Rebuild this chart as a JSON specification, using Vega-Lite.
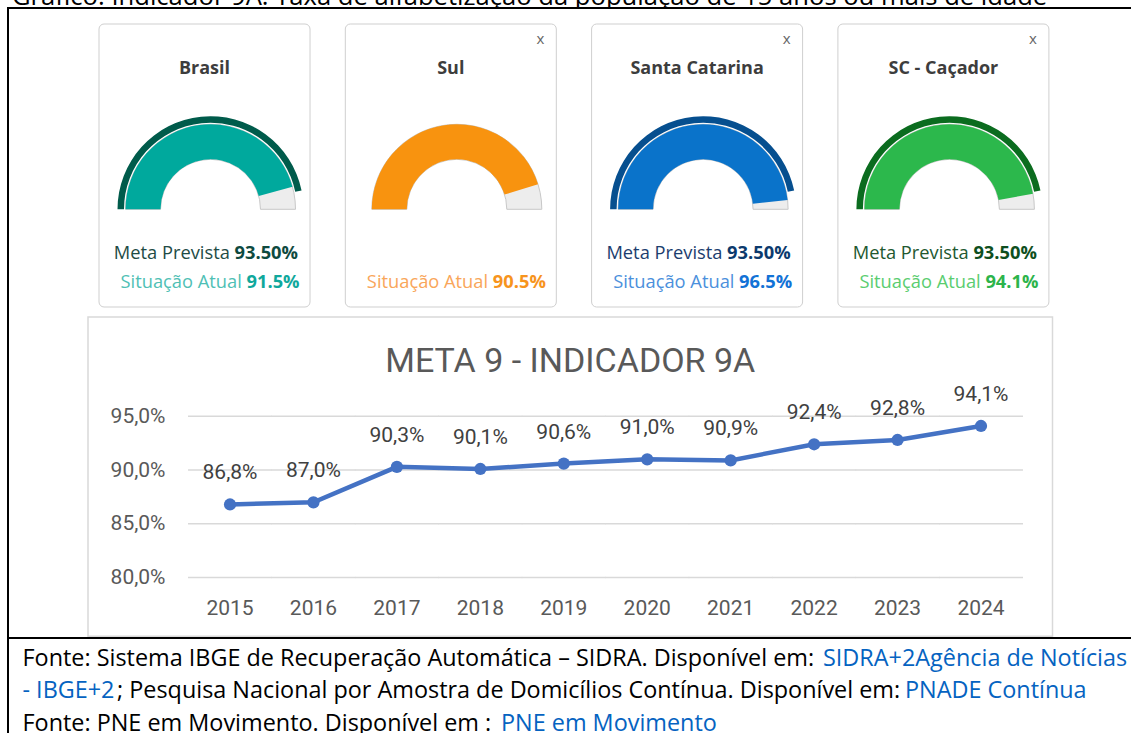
{
  "$schema": "https://vega.github.io/schema/vega-lite/v6.json",
  "background": "white",
  "padding": 0,
  "spacing": 0,
  "datasets": {
    "cards": [
      {"regiao": "Brasil", "meta": 0.935, "atual": 0.915},
      {"regiao": "Sul", "meta": null, "atual": 0.905},
      {"regiao": "Santa Catarina", "meta": 0.935, "atual": 0.965},
      {"regiao": "SC - Caçador", "meta": 0.935, "atual": 0.941}
    ],
    "serie": [
      {"ano": 2015, "valor": 86.8},
      {"ano": 2016, "valor": 87.0},
      {"ano": 2017, "valor": 90.3},
      {"ano": 2018, "valor": 90.1},
      {"ano": 2019, "valor": 90.6},
      {"ano": 2020, "valor": 91.0},
      {"ano": 2021, "valor": 90.9},
      {"ano": 2022, "valor": 92.4},
      {"ano": 2023, "valor": 92.8},
      {"ano": 2024, "valor": 94.1}
    ],
    "grade": [
      {"ano": 2015, "nivel": 80}, {"ano": 2016, "nivel": 80}, {"ano": 2017, "nivel": 80}, {"ano": 2018, "nivel": 80}, {"ano": 2019, "nivel": 80},
      {"ano": 2020, "nivel": 80}, {"ano": 2021, "nivel": 80}, {"ano": 2022, "nivel": 80}, {"ano": 2023, "nivel": 80}, {"ano": 2024, "nivel": 80},
      {"ano": 2015, "nivel": 85}, {"ano": 2016, "nivel": 85}, {"ano": 2017, "nivel": 85}, {"ano": 2018, "nivel": 85}, {"ano": 2019, "nivel": 85},
      {"ano": 2020, "nivel": 85}, {"ano": 2021, "nivel": 85}, {"ano": 2022, "nivel": 85}, {"ano": 2023, "nivel": 85}, {"ano": 2024, "nivel": 85},
      {"ano": 2015, "nivel": 90}, {"ano": 2016, "nivel": 90}, {"ano": 2017, "nivel": 90}, {"ano": 2018, "nivel": 90}, {"ano": 2019, "nivel": 90},
      {"ano": 2020, "nivel": 90}, {"ano": 2021, "nivel": 90}, {"ano": 2022, "nivel": 90}, {"ano": 2023, "nivel": 90}, {"ano": 2024, "nivel": 90},
      {"ano": 2015, "nivel": 95}, {"ano": 2016, "nivel": 95}, {"ano": 2017, "nivel": 95}, {"ano": 2018, "nivel": 95}, {"ano": 2019, "nivel": 95},
      {"ano": 2020, "nivel": 95}, {"ano": 2021, "nivel": 95}, {"ano": 2022, "nivel": 95}, {"ano": 2023, "nivel": 95}, {"ano": 2024, "nivel": 95}
    ]
  },
  "config": {"view": {"stroke": null}, "font": "Roboto", "concat": {"spacing": 0}},
  "vconcat": [
    {
      "width": 1131, "height": 7,
      "data": {"values": [{}]},
      "mark": {"type": "text", "text": "Gráfico: Indicador 9A: Taxa de alfabetização da população de 15 anos ou mais de idade", "clip": true, "align": "left", "baseline": "alphabetic", "dx": -553.5, "dy": 1, "font": "Open Sans", "fontSize": 25.6, "color": "#000000"},
      "encoding": {}
    },
    {
      "spacing": 0,
      "hconcat": [
        {"width": 7, "height": 726, "data": {"values": [{}]}, "mark": {"type": "rect", "opacity": 0}, "encoding": {}},
        {"width": 2, "height": 726, "data": {"values": [{}]}, "mark": {"type": "rect", "color": "#000000"}, "encoding": {}},
        {
          "spacing": 0,
          "vconcat": [
            {"width": 1122, "height": 2, "data": {"values": [{}]}, "mark": {"type": "rect", "color": "#000000"}, "encoding": {}},
            {"width": 1122, "height": 13.5, "data": {"values": [{}]}, "mark": {"type": "rect", "opacity": 0}, "encoding": {}},
            {
              "width": 1122, "height": 283,
              "data": {"name": "cards"},
              "resolve": {"scale": {"color": "independent"}},
              "layer": [
                {
                  "mark": {"type": "rect", "fill": "#ffffff", "stroke": "#cfcfcf", "strokeWidth": 1, "cornerRadius": 5},
                  "encoding": {
                    "x": {"field": "regiao", "type": "nominal", "axis": null, "scale": {"type": "band", "domain": ["Brasil", "Sul", "Santa Catarina", "SC - Caçador"], "paddingInner": 0.1433, "paddingOuter": 0.3494, "align": 0.523}}
                  }
                },
                {
                  "mark": {"type": "arc", "radius": 85, "radius2": 50, "theta": -1.5708, "theta2": 1.5708, "fill": "#ededed", "stroke": "#c8c8c8", "strokeWidth": 1, "xOffset": 6, "yOffset": 43.8},
                  "encoding": {
                    "x": {"field": "regiao", "type": "nominal", "axis": null, "bandPosition": 0.5}
                  }
                },
                {
                  "transform": [{"filter": "datum.meta != null"}],
                  "mark": {"type": "arc", "radius": 93, "radius2": 86.5, "xOffset": 6, "yOffset": 43.8},
                  "encoding": {
                    "x": {"field": "regiao", "type": "nominal", "axis": null, "bandPosition": 0.5},
                    "theta": {"field": "meta", "type": "quantitative", "stack": null, "scale": {"domain": [0, 1], "range": [-1.5708, 1.5708]}},
                    "color": {"field": "regiao", "type": "nominal", "legend": null, "scale": {"domain": ["Brasil", "Santa Catarina", "SC - Caçador"], "range": ["#005b4b", "#064f8f", "#0b6c1f"]}}
                  }
                },
                {
                  "mark": {"type": "arc", "radius": 85, "radius2": 50, "xOffset": 6, "yOffset": 43.8},
                  "encoding": {
                    "x": {"field": "regiao", "type": "nominal", "axis": null, "bandPosition": 0.5},
                    "theta": {"field": "atual", "type": "quantitative", "stack": null, "scale": {"domain": [0, 1], "range": [-1.5708, 1.5708]}},
                    "color": {"field": "regiao", "type": "nominal", "legend": null, "scale": {"domain": ["Brasil", "Sul", "Santa Catarina", "SC - Caçador"], "range": ["#00a99d", "#f8930f", "#0a73ca", "#2cb84c"]}}
                  }
                },
                {
                  "mark": {"type": "text", "font": "Open Sans", "fontWeight": "bold", "fontSize": 18, "color": "#3d3d3d", "baseline": "middle", "dy": -96.5},
                  "encoding": {
                    "x": {"field": "regiao", "type": "nominal", "axis": null, "bandPosition": 0.5},
                    "text": {"field": "regiao", "type": "nominal"}
                  }
                },
                {
                  "transform": [{"filter": "datum.regiao != 'Brasil'"}],
                  "mark": {"type": "text", "text": "x", "font": "Open Sans", "fontSize": 15, "color": "#666666", "baseline": "middle", "dx": 89.5, "dy": -126.5},
                  "encoding": {
                    "x": {"field": "regiao", "type": "nominal", "axis": null, "bandPosition": 0.5}
                  }
                },
                {
                  "transform": [{"filter": "datum.meta != null"}],
                  "mark": {"type": "text", "text": "Meta Prevista", "font": "Open Sans", "fontSize": 18.3, "align": "right", "baseline": "middle", "dx": 25.3, "dy": 88.5},
                  "encoding": {
                    "x": {"field": "regiao", "type": "nominal", "axis": null, "bandPosition": 0.5},
                    "color": {"field": "regiao", "type": "nominal", "legend": null, "scale": {"domain": ["Brasil", "Santa Catarina", "SC - Caçador"], "range": ["#1e4b45", "#1c3d6e", "#22582f"]}}
                  }
                },
                {
                  "transform": [{"filter": "datum.meta != null"}],
                  "mark": {"type": "text", "font": "Open Sans", "fontWeight": "bold", "fontSize": 18.3, "align": "left", "baseline": "middle", "dx": 30, "dy": 88.5},
                  "encoding": {
                    "x": {"field": "regiao", "type": "nominal", "axis": null, "bandPosition": 0.5},
                    "text": {"field": "meta", "type": "quantitative", "format": ".2%"},
                    "color": {"field": "regiao", "type": "nominal", "legend": null, "scale": {"domain": ["Brasil", "Santa Catarina", "SC - Caçador"], "range": ["#0e4a3f", "#0c3a6d", "#0e4f20"]}}
                  }
                },
                {
                  "mark": {"type": "text", "text": "Situação Atual", "font": "Open Sans", "fontSize": 18.3, "align": "right", "baseline": "middle", "dx": 37.3, "dy": 117.2},
                  "encoding": {
                    "x": {"field": "regiao", "type": "nominal", "axis": null, "bandPosition": 0.5},
                    "color": {"field": "regiao", "type": "nominal", "legend": null, "scale": {"domain": ["Brasil", "Sul", "Santa Catarina", "SC - Caçador"], "range": ["#4fbfb5", "#f9a65a", "#4b90dc", "#5acd70"]}}
                  }
                },
                {
                  "mark": {"type": "text", "font": "Open Sans", "fontWeight": "bold", "fontSize": 18.3, "align": "left", "baseline": "middle", "dx": 42, "dy": 117.2},
                  "encoding": {
                    "x": {"field": "regiao", "type": "nominal", "axis": null, "bandPosition": 0.5},
                    "text": {"field": "atual", "type": "quantitative", "format": ".1%"},
                    "color": {"field": "regiao", "type": "nominal", "legend": null, "scale": {"domain": ["Brasil", "Sul", "Santa Catarina", "SC - Caçador"], "range": ["#10a89c", "#f7941d", "#1272d6", "#2cb44b"]}}
                  }
                }
              ]
            },
            {"width": 1122, "height": 7.4, "data": {"values": [{}]}, "mark": {"type": "rect", "opacity": 0}, "encoding": {}},
            {
              "spacing": 0,
              "hconcat": [
                {"width": 78, "height": 319.25, "data": {"values": [{}]}, "mark": {"type": "rect", "opacity": 0}, "encoding": {}},
                {
                  "width": 964.5, "height": 319.25,
                  "view": {"stroke": "#d9d9d9", "strokeWidth": 1.5},
                  "layer": [
                    {
                      "data": {"values": [{}]},
                      "mark": {"type": "text", "text": "META 9 - INDICADOR 9A", "font": "Roboto", "fontSize": 34, "color": "#595959", "baseline": "alphabetic", "dy": -104.6},
                      "encoding": {}
                    },
                    {
                      "data": {"name": "grade"},
                      "mark": {"type": "tick", "orient": "horizontal", "color": "#d9d9d9", "thickness": 1.5, "size": 84, "opacity": 1},
                      "encoding": {
                        "x": {"field": "ano", "type": "ordinal", "bandPosition": 0.5, "scale": {"type": "band", "paddingInner": 0, "paddingOuter": 0.7795, "align": 0.771}},
                        "y": {"field": "nivel", "type": "quantitative", "scale": {"domain": [74.546, 104.234], "nice": false, "zero": false}}
                      }
                    },
                    {
                      "data": {"name": "serie"},
                      "mark": {"type": "line", "color": "#4472C4", "strokeWidth": 4.5},
                      "encoding": {
                        "x": {"field": "ano", "type": "ordinal", "bandPosition": 0.5, "scale": {"type": "band", "paddingInner": 0, "paddingOuter": 0.7795, "align": 0.771},
                          "axis": {"title": null, "labelAngle": 0, "labelAlign": "center", "domain": false, "ticks": false, "tickSize": 0, "grid": false, "offset": -27.5, "labelPadding": 0, "labelBaseline": "middle", "labelFont": "Roboto", "labelFontSize": 21, "labelColor": "#595959"}},
                        "y": {"field": "valor", "type": "quantitative", "scale": {"domain": [74.546, 104.234], "nice": false, "zero": false},
                          "axis": {"title": null, "values": [80, 85, 90, 95], "labelExpr": "replace(format(datum.value, '.1f'), '.', ',') + '%'", "grid": false, "domain": false, "ticks": false, "tickSize": 0, "labelPadding": 0, "offset": -77, "labelFont": "Roboto", "labelFontSize": 21, "labelColor": "#595959"}}
                      }
                    },
                    {
                      "data": {"name": "serie"},
                      "mark": {"type": "point", "filled": true, "size": 150, "color": "#4472C4", "opacity": 1},
                      "encoding": {
                        "x": {"field": "ano", "type": "ordinal", "bandPosition": 0.5, "scale": {"type": "band", "paddingInner": 0, "paddingOuter": 0.7795, "align": 0.771}},
                        "y": {"field": "valor", "type": "quantitative", "scale": {"domain": [74.546, 104.234], "nice": false, "zero": false}}
                      }
                    },
                    {
                      "data": {"name": "serie"},
                      "mark": {"type": "text", "font": "Roboto", "fontSize": 21, "color": "#404040", "baseline": "middle", "dy": -31, "text": {"expr": "replace(format(datum.valor, '.1f'), '.', ',') + '%'"}},
                      "encoding": {
                        "x": {"field": "ano", "type": "ordinal", "bandPosition": 0.5, "scale": {"type": "band", "paddingInner": 0, "paddingOuter": 0.7795, "align": 0.771}},
                        "y": {"field": "valor", "type": "quantitative", "scale": {"domain": [74.546, 104.234], "nice": false, "zero": false}}
                      }
                    }
                  ]
                }
              ]
            },
            {"width": 1122, "height": 2, "data": {"values": [{}]}, "mark": {"type": "rect", "color": "#000000"}, "encoding": {}},
            {
              "width": 1122, "height": 96,
              "data": {"values": [{}]},
              "layer": [
                {"mark": {"type": "text", "text": "Fonte: Sistema IBGE de Recuperação Automática – SIDRA. Disponível em: ", "font": "Open Sans", "fontSize": 23.4, "color": "#000000", "align": "left", "baseline": "alphabetic", "dx": -547.5, "dy": -21.5}, "encoding": {}},
                {"mark": {"type": "text", "text": "SIDRA+2Agência de Notícias", "font": "Open Sans", "fontSize": 23.4, "color": "#0563C1", "align": "left", "baseline": "alphabetic", "dx": 253, "dy": -21.5}, "encoding": {}},
                {"mark": {"type": "text", "text": "- IBGE+2", "font": "Open Sans", "fontSize": 23.4, "color": "#0563C1", "align": "left", "baseline": "alphabetic", "dx": -547.5, "dy": 11.2}, "encoding": {}},
                {"mark": {"type": "text", "text": "; Pesquisa Nacional por Amostra de Domicílios Contínua. Disponível em: ", "font": "Open Sans", "fontSize": 23.4, "color": "#000000", "align": "left", "baseline": "alphabetic", "dx": -453, "dy": 11.2}, "encoding": {}},
                {"mark": {"type": "text", "text": "PNADE Contínua", "font": "Open Sans", "fontSize": 23.4, "color": "#0563C1", "align": "left", "baseline": "alphabetic", "dx": 335, "dy": 11.2}, "encoding": {}},
                {"mark": {"type": "text", "text": "Fonte: PNE em Movimento. Disponível em : ", "font": "Open Sans", "fontSize": 23.4, "color": "#000000", "align": "left", "baseline": "alphabetic", "dx": -547.5, "dy": 43.7}, "encoding": {}},
                {"mark": {"type": "text", "text": "PNE em Movimento", "font": "Open Sans", "fontSize": 23.4, "color": "#0563C1", "align": "left", "baseline": "alphabetic", "dx": -69, "dy": 43.7}, "encoding": {}}
              ]
            }
          ]
        }
      ]
    }
  ]
}
